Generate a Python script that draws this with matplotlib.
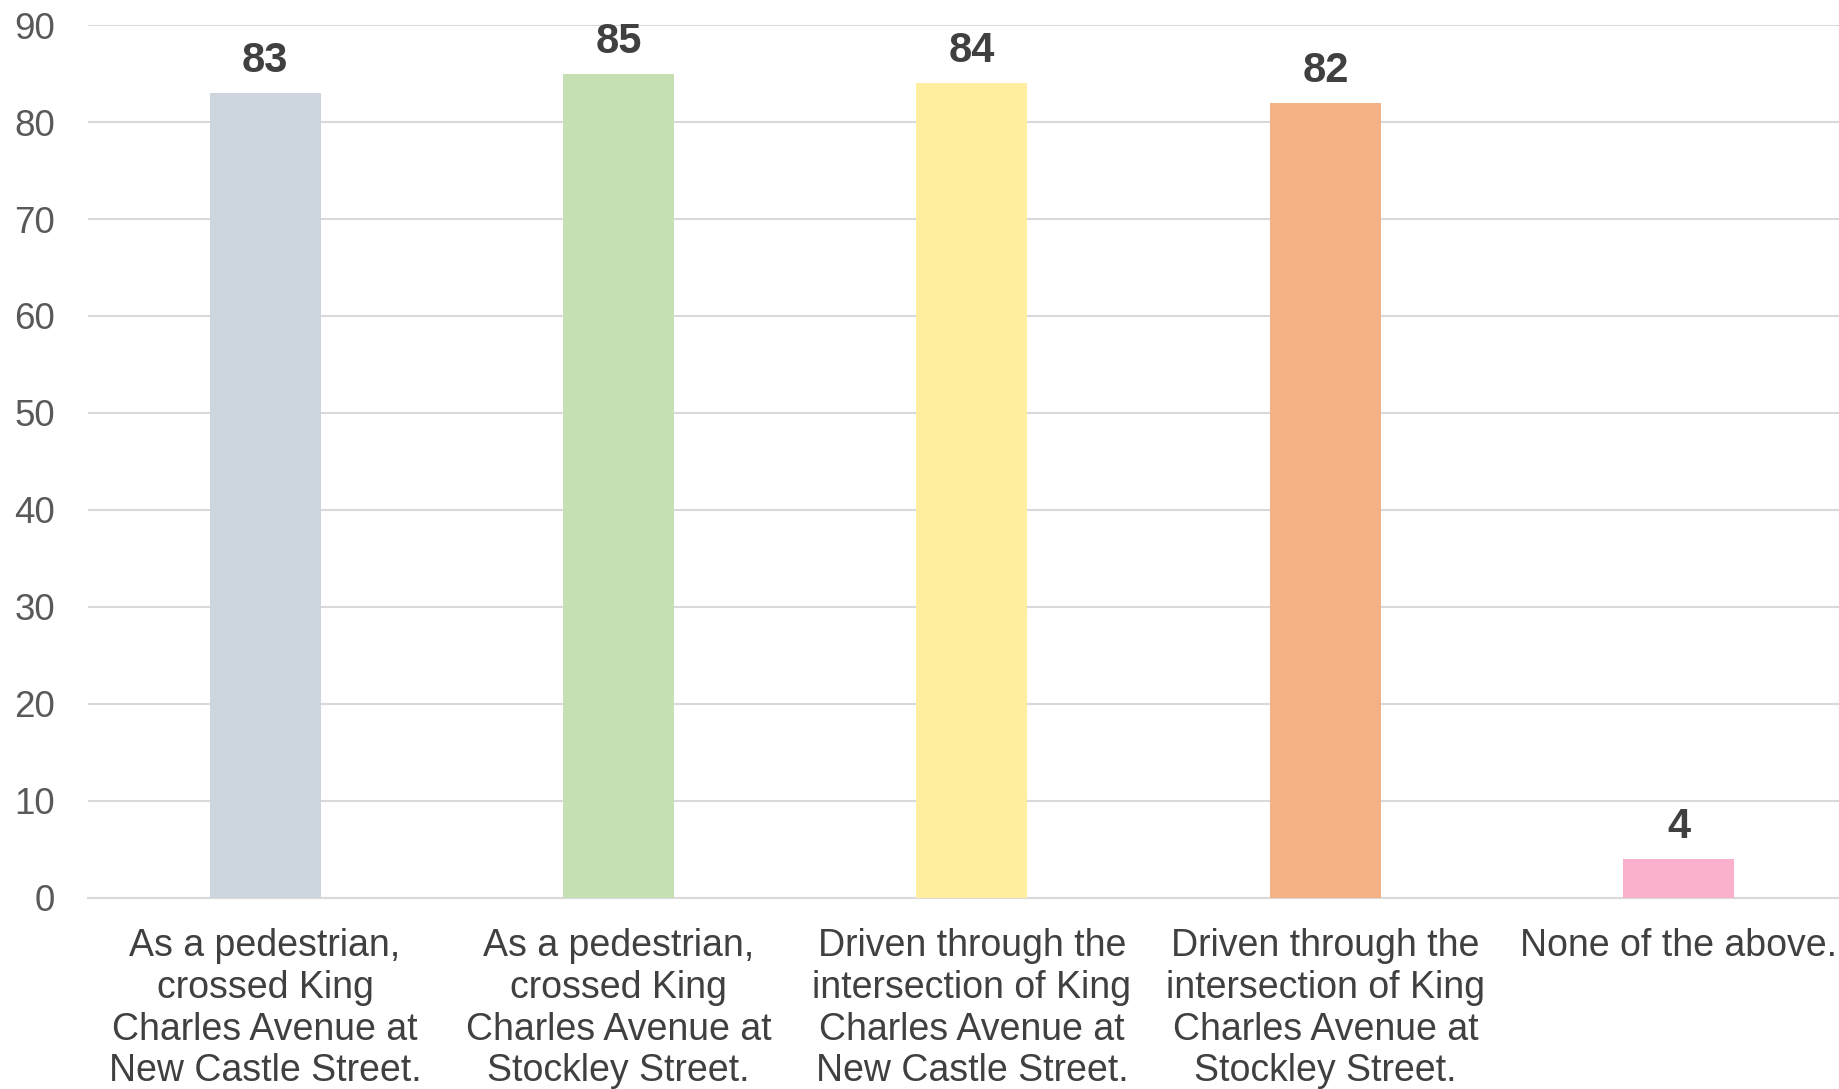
"""Bar chart of survey answers about King Charles Avenue crossings."""

import matplotlib

matplotlib.use("Agg")
import matplotlib.pyplot as plt

CATEGORIES = [
    "As a pedestrian,\ncrossed King\nCharles Avenue at\nNew Castle Street.",
    "As a pedestrian,\ncrossed King\nCharles Avenue at\nStockley Street.",
    "Driven through the\nintersection of King\nCharles Avenue at\nNew Castle Street.",
    "Driven through the\nintersection of King\nCharles Avenue at\nStockley Street.",
    "None of the above.",
]
VALUES = [83, 85, 84, 82, 4]
BAR_COLORS = ["#cdd5df", "#c6e0b4", "#ffee9f", "#f4b183", "#fbb1cd"]
Y_TICKS = [0, 10, 20, 30, 40, 50, 60, 70, 80, 90]


def main() -> None:
    plt.rcParams["font.family"] = ["Liberation Sans", "DejaVu Sans"]

    fig = plt.figure(figsize=(18.39, 10.89), dpi=100)
    ax = fig.add_axes([0.048, 0.1755, 0.952, 0.8015])

    positions = list(range(len(VALUES)))
    bars = ax.bar(positions, VALUES, width=0.314, color=BAR_COLORS, zorder=3)

    for bar, value in zip(bars, VALUES):
        ax.annotate(
            f"{value}",
            (bar.get_x() + bar.get_width() / 2, bar.get_height()),
            xytext=(0, 23),
            textcoords="offset points",
            ha="center",
            va="center",
            fontsize=30,
            fontweight="bold",
            color="#404040",
        )

    ax.set_xlim(-0.5, 4.453)
    ax.set_ylim(0, 90)
    ax.set_yticks(Y_TICKS)
    ax.set_xticks(positions)
    ax.set_xticklabels(CATEGORIES, fontsize=27, color="#404040", linespacing=1.2, va="top")
    ax.tick_params(axis="y", length=0, pad=24, labelsize=26.5, labelcolor="#595959")
    ax.tick_params(axis="x", length=0, pad=22)

    ax.grid(axis="y", color="#d9d9d9", linewidth=1.5, zorder=0)
    for side in ("top", "right", "left"):
        ax.spines[side].set_visible(False)
    ax.spines["bottom"].set_color("#d9d9d9")
    ax.spines["bottom"].set_linewidth(1.5)

    fig.savefig("out.png", dpi=100)
    plt.close(fig)


if __name__ == "__main__":
    main()
